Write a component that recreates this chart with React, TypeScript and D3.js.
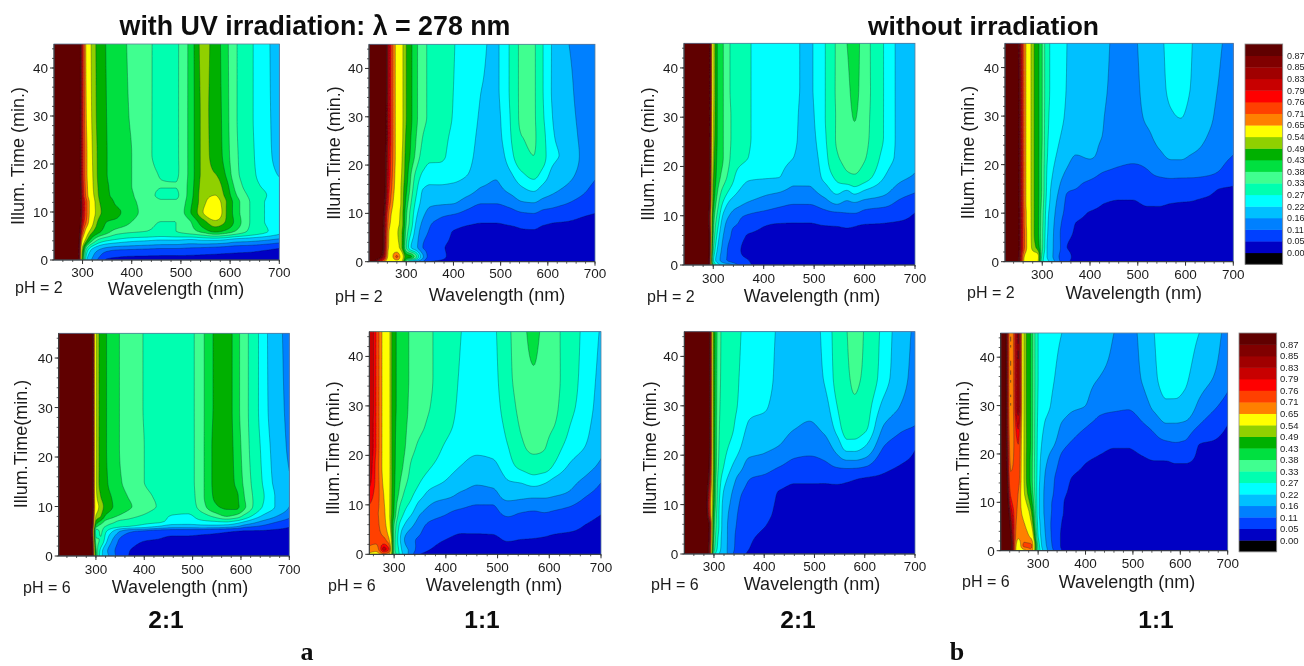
import React, { useMemo } from "react";
import * as d3 from "d3";

const LEVELS = [0, 0.05, 0.11, 0.16, 0.22, 0.27, 0.33, 0.38, 0.43, 0.49, 0.54, 0.65, 0.71, 0.76, 0.79, 0.83, 0.85, 0.87];
const LEVEL_LABELS = ["0.00", "0.05", "0.11", "0.16", "0.22", "0.27", "0.33", "0.38", "0.43", "0.49", "0.54", "0.65", "0.71", "0.76", "0.79", "0.83", "0.85", "0.87"];
const BAND_COLORS = ["#0000c4", "#0040ff", "#0080ff", "#00c0ff", "#00ffff", "#00ffb0", "#40ff90", "#00e040", "#00b000", "#90d000", "#ffff00", "#ff8000", "#ff4000", "#ff0000", "#c80000", "#a00000", "#800000", "#600000"];
const BELOW_COLOR = "#000000";

const WAVES = [220, 250, 265, 280, 290, 300, 310, 320, 335, 350, 370, 400, 430, 460, 490, 520, 545, 570, 590, 610, 640, 670, 700];
const WAVES_TIP = [220, 250, 265, 280, 290, 300, 310, 320, 335, 350, 370, 400, 430, 460, 490, 520, 545, 565, 580, 600, 640, 670, 700];
const WAVES_LAST = [220, 232, 242, 258, 270, 285, 300, 310, 320, 335, 350, 370, 400, 430, 460, 490, 520, 545, 570, 590, 610, 640, 670, 700];
const TIMES = [0, 1, 3, 6, 8, 10, 12, 15, 18, 22, 26, 30, 36, 45];
const TIMES_A = [0, 2, 4, 6, 8, 10, 12, 13.5, 15.5, 18, 22, 30, 45];
const TIMES_E = [0, 1, 3, 5, 6, 7, 8, 10, 12, 15, 22, 30, 45];
const X_TICKS = [300, 400, 500, 600, 700];
const Y_TICKS = [0, 10, 20, 30, 40];

// rows = times, columns = wavelengths
const uvPh2Ratio21Rows = [
  [.95, .95, .95, .95, .93, .45, .20, .15, .09, .04, .03, .02, .02, .02, .02, .02, .02, .02, .02, .02, .02, .02, .03],
  [.95, .95, .95, .95, .93, .50, .28, .20, .15, .12, .105, .10, .095, .09, .09, .085, .08, .075, .07, .065, .06, .05, .04],
  [.95, .95, .95, .95, .94, .62, .47, .38, .30, .27, .25, .23, .22, .21, .21, .20, .21, .21, .20, .18, .17, .155, .135],
  [.95, .95, .95, .95, .94, .74, .58, .50, .44, .40, .36, .34, .33, .32, .33, .36, .40, .445, .42, .38, .32, .28, .24],
  [.95, .95, .95, .96, .95, .80, .68, .56, .47, .43, .42, .38, .345, .33, .33, .38, .47, .53, .49, .42, .33, .27, .245],
  [.95, .95, .95, .96, .96, .82, .70, .58, .50, .46, .44, .40, .36, .345, .345, .43, .54, .60, .50, .41, .33, .27, .25],
  [.95, .95, .95, .96, .95, .82, .70, .58, .49, .46, .42, .39, .36, .335, .335, .42, .525, .57, .50, .41, .33, .27, .25],
  [.95, .95, .95, .95, .95, .80, .66, .56, .48, .44, .41, .385, .345, .325, .325, .41, .52, .54, .48, .39, .32, .275, .245],
  [.95, .95, .95, .95, .95, .79, .65, .55, .475, .435, .41, .38, .345, .331, .331, .405, .51, .52, .46, .37, .30, .26, .235],
  [.95, .95, .95, .95, .95, .78, .64, .545, .47, .43, .405, .38, .345, .328, .326, .40, .50, .49, .43, .35, .29, .245, .215],
  [.95, .95, .95, .95, .95, .78, .64, .54, .47, .43, .405, .38, .34, .32, .325, .40, .50, .47, .41, .345, .285, .24, .20],
  [.95, .95, .95, .95, .95, .78, .62, .53, .465, .428, .40, .375, .34, .32, .325, .40, .50, .465, .405, .34, .28, .24, .19],
  [.95, .95, .95, .95, .95, .78, .60, .525, .46, .425, .40, .37, .34, .32, .325, .40, .51, .46, .40, .34, .28, .24, .18],
];

// the remaining grids: rows = wavelengths, columns = times
const uvPh2Ratio11 = [
  [.95, .95, .95, .95, .95, .95, .95, .95, .95, .95, .95, .95, .95, .95],
  [.72, .85, .88, .88, .88, .89, .90, .91, .91, .91, .92, .92, .93, .93],
  [.56, .60, .62, .63, .66, .68, .72, .75, .77, .78, .79, .79, .79, .79],
  [.60, .72, .57, .55, .56, .57, .58, .60, .61, .62, .62, .62, .62, .62],
  [.55, .60, .50, .50, .52, .52, .53, .53, .54, .55, .56, .56, .56, .56],
  [.35, .46, .33, .36, .38, .39, .41, .44, .46, .47, .48, .49, .49, .49],
  [.20, .44, .22, .27, .30, .31, .33, .36, .38, .42, .43, .44, .44, .44],
  [.15, .35, .18, .20, .22, .24, .26, .29, .32, .37, .385, .395, .395, .395],
  [.11, .17, .11, .13, .15, .175, .20, .22, .26, .31, .33, .345, .345, .345],
  [.05, .09, .09, .105, .115, .14, .17, .21, .24, .285, .305, .32, .32, .32],
  [.04, .07, .06, .09, .10, .125, .165, .21, .24, .28, .285, .29, .29, .29],
  [.03, .035, .04, .047, .07, .115, .16, .205, .235, .255, .263, .268, .27, .272],
  [.025, .03, .03, .04, .055, .095, .13, .185, .22, .235, .24, .245, .25, .25],
  [.025, .03, .03, .04, .05, .08, .11, .155, .18, .20, .21, .215, .22, .225],
  [.025, .03, .03, .04, .05, .08, .11, .15, .165, .19, .205, .21, .215, .215],
  [.025, .03, .03, .04, .055, .09, .125, .175, .21, .25, .265, .27, .275, .275],
  [.025, .03, .03, .045, .06, .105, .15, .21, .26, .315, .33, .34, .34, .34],
  [.025, .03, .03, .045, .065, .11, .155, .23, .285, .33, .335, .335, .335, .335],
  [.025, .03, .03, .04, .055, .095, .135, .20, .25, .29, .285, .275, .27, .27],
  [.025, .03, .03, .04, .05, .09, .125, .175, .205, .23, .225, .22, .215, .215],
  [.025, .03, .03, .035, .047, .075, .11, .15, .18, .21, .20, .19, .18, .165],
  [.025, .03, .03, .03, .04, .06, .09, .125, .145, .155, .15, .145, .14, .14],
  [.025, .03, .03, .03, .03, .05, .07, .095, .115, .12, .12, .12, .12, .12],
];

const darkPh2Ratio21 = [
  [.95, .95, .95, .95, .95, .95, .95, .95, .95, .95, .95, .95, .95, .95],
  [.95, .95, .95, .95, .95, .95, .95, .95, .95, .95, .95, .95, .95, .95],
  [.95, .95, .95, .95, .95, .95, .95, .95, .95, .95, .95, .95, .95, .95],
  [.95, .95, .95, .95, .95, .95, .95, .95, .95, .95, .95, .95, .95, .95],
  [.90, .92, .93, .93, .90, .89, .93, .95, .95, .95, .95, .95, .95, .95],
  [.35, .28, .33, .38, .40, .42, .45, .48, .50, .52, .54, .55, .56, .56],
  [.24, .18, .20, .24, .27, .30, .33, .37, .40, .41, .415, .415, .415, .415],
  [.20, .13, .14, .16, .18, .21, .25, .31, .36, .38, .38, .38, .38, .38],
  [.17, .09, .09, .11, .12, .15, .19, .255, .30, .325, .33, .33, .325, .325],
  [.11, .06, .055, .07, .105, .12, .165, .22, .25, .29, .30, .30, .30, .30],
  [.055, .05, .04, .047, .08, .105, .145, .195, .23, .27, .275, .275, .275, .275],
  [.04, .035, .035, .04, .052, .09, .13, .175, .225, .24, .25, .25, .25, .25],
  [.03, .03, .03, .035, .045, .08, .115, .165, .222, .235, .24, .24, .24, .24],
  [.03, .03, .03, .035, .045, .07, .105, .148, .18, .22, .225, .225, .225, .225],
  [.03, .03, .03, .035, .045, .07, .105, .15, .175, .195, .205, .21, .215, .215],
  [.03, .03, .03, .035, .05, .085, .125, .185, .235, .25, .26, .265, .265, .265],
  [.03, .03, .03, .035, .052, .09, .15, .235, .285, .325, .335, .335, .338, .338],
  [.03, .03, .03, .04, .055, .10, .135, .215, .32, .345, .355, .362, .37, .38],
  [.03, .03, .03, .04, .052, .10, .14, .24, .325, .355, .37, .382, .39, .395],
  [.03, .03, .03, .035, .047, .09, .125, .215, .30, .335, .345, .35, .355, .355],
  [.03, .03, .03, .035, .045, .075, .115, .175, .22, .25, .265, .265, .265, .265],
  [.03, .03, .03, .03, .04, .065, .09, .135, .175, .205, .205, .205, .205, .205],
  [.03, .03, .03, .03, .035, .045, .07, .115, .155, .175, .18, .18, .18, .18],
];

const darkPh2Ratio11 = [
  [.95, .95, .95, .95, .95, .95, .95, .95, .95, .95, .95, .95, .95, .95],
  [.875, .88, .88, .88, .88, .88, .88, .88, .88, .88, .88, .88, .88, .875],
  [.60, .62, .68, .68, .67, .67, .66, .66, .66, .66, .66, .66, .66, .66],
  [.58, .58, .52, .51, .51, .51, .51, .51, .51, .51, .51, .51, .51, .51],
  [.56, .57, .47, .45, .45, .45, .45, .45, .45, .45, .45, .45, .45, .45],
  [.28, .30, .34, .34, .345, .35, .36, .37, .37, .375, .38, .38, .38, .38],
  [.24, .22, .22, .23, .235, .24, .25, .26, .265, .275, .28, .285, .29, .29],
  [.19, .17, .17, .175, .18, .19, .20, .21, .225, .24, .25, .255, .26, .26],
  [.12, .11, .125, .12, .125, .13, .14, .16, .185, .21, .225, .235, .24, .24],
  [.06, .07, .052, .07, .085, .10, .105, .115, .15, .185, .205, .215, .22, .222],
  [.04, .04, .04, .045, .05, .07, .085, .11, .125, .16, .185, .195, .20, .20],
  [.03, .03, .03, .03, .04, .047, .07, .095, .12, .165, .17, .175, .178, .18],
  [.03, .03, .03, .03, .035, .04, .05, .085, .105, .145, .158, .16, .163, .165],
  [.03, .03, .03, .03, .03, .035, .045, .07, .098, .125, .14, .148, .152, .155],
  [.03, .03, .03, .03, .03, .035, .045, .07, .095, .12, .135, .145, .15, .155],
  [.03, .03, .03, .03, .03, .04, .055, .09, .105, .125, .15, .17, .18, .185],
  [.03, .03, .03, .03, .03, .04, .055, .085, .115, .15, .18, .195, .205, .21],
  [.03, .03, .03, .03, .03, .035, .05, .085, .12, .17, .195, .215, .23, .235],
  [.03, .03, .03, .03, .03, .035, .048, .08, .12, .17, .195, .222, .24, .25],
  [.03, .03, .03, .03, .03, .035, .047, .075, .12, .16, .19, .205, .22, .225],
  [.03, .03, .03, .03, .03, .03, .04, .07, .115, .145, .165, .18, .185, .19],
  [.03, .03, .03, .03, .03, .03, .035, .05, .105, .125, .14, .15, .158, .165],
  [.03, .03, .03, .03, .03, .03, .03, .045, .08, .11, .125, .135, .14, .145],
];

const uvPh6Ratio21 = [
  [.95, .95, .95, .95, .95, .95, .95, .95, .95, .95, .95, .95, .95],
  [.95, .95, .95, .95, .95, .95, .95, .95, .95, .95, .95, .95, .95],
  [.95, .95, .95, .95, .95, .95, .95, .95, .95, .95, .95, .95, .95],
  [.95, .95, .95, .95, .95, .95, .95, .95, .95, .95, .95, .95, .95],
  [.96, .95, .93, .90, .92, .94, .95, .96, .96, .96, .96, .96, .96],
  [.42, .40, .35, .30, .40, .48, .53, .58, .56, .55, .55, .55, .55],
  [.24, .25, .32, .34, .36, .42, .49, .52, .49, .47, .47, .47, .47],
  [.19, .18, .24, .28, .33, .37, .42, .47, .45, .44, .435, .435, .435],
  [.125, .12, .15, .22, .30, .345, .39, .43, .425, .41, .405, .405, .405],
  [.09, .09, .10, .16, .285, .32, .37, .41, .40, .385, .378, .378, .378],
  [.047, .05, .07, .12, .27, .31, .345, .385, .375, .36, .355, .355, .355],
  [.03, .035, .05, .10, .25, .29, .32, .355, .345, .33, .33, .328, .328],
  [.03, .03, .045, .085, .22, .28, .29, .325, .32, .31, .31, .31, .31],
  [.03, .03, .035, .08, .19, .255, .265, .30, .30, .30, .30, .30, .30],
  [.03, .03, .035, .08, .19, .25, .26, .30, .305, .31, .31, .31, .31],
  [.03, .03, .03, .075, .20, .26, .30, .36, .37, .37, .37, .37, .37],
  [.03, .03, .03, .065, .20, .27, .34, .42, .435, .44, .44, .435, .435],
  [.03, .03, .03, .055, .19, .28, .38, .44, .455, .46, .46, .46, .46],
  [.03, .03, .03, .05, .17, .26, .36, .44, .44, .42, .41, .40, .40],
  [.03, .03, .03, .045, .13, .22, .30, .38, .37, .36, .35, .345, .345],
  [.03, .03, .03, .045, .105, .16, .22, .28, .29, .28, .27, .26, .26],
  [.03, .03, .03, .04, .08, .12, .165, .22, .22, .21, .20, .19, .185],
  [.03, .03, .03, .035, .055, .09, .12, .16, .17, .165, .15, .145, .14],
];

const uvPh6Ratio11 = [
  [.62, .70, .72, .73, .74, .76, .78, .80, .81, .82, .82, .83, .83, .83],
  [.62, .70, .72, .73, .74, .76, .78, .80, .81, .82, .82, .83, .83, .83],
  [.60, .68, .72, .72, .72, .73, .74, .75, .75, .76, .76, .76, .76, .76],
  [.70, .80, .72, .68, .67, .66, .65, .63, .62, .62, .62, .62, .62, .62],
  [.65, .76, .66, .58, .56, .56, .56, .56, .56, .56, .56, .56, .56, .56],
  [.38, .35, .36, .38, .42, .43, .435, .44, .44, .44, .44, .44, .44, .44],
  [.27, .26, .24, .27, .31, .34, .37, .39, .405, .41, .415, .42, .42, .42],
  [.20, .18, .16, .22, .26, .29, .32, .35, .37, .385, .39, .395, .395, .395],
  [.12, .14, .12, .17, .215, .25, .275, .305, .32, .345, .36, .365, .37, .37],
  [.05, .07, .10, .13, .16, .20, .24, .275, .30, .32, .34, .345, .35, .35],
  [.04, .05, .07, .10, .13, .16, .20, .245, .275, .30, .32, .33, .335, .335],
  [.03, .035, .05, .085, .11, .13, .18, .22, .245, .265, .285, .295, .30, .30],
  [.02, .03, .04, .07, .095, .12, .15, .19, .22, .24, .255, .26, .265, .27],
  [.02, .03, .04, .07, .09, .11, .14, .17, .205, .23, .24, .245, .25, .25],
  [.02, .03, .04, .075, .095, .11, .14, .18, .21, .235, .245, .25, .255, .26],
  [.02, .03, .055, .09, .115, .14, .19, .22, .25, .27, .285, .30, .315, .32],
  [.02, .03, .05, .085, .105, .135, .18, .23, .285, .32, .335, .345, .355, .36],
  [.02, .03, .048, .08, .10, .13, .175, .25, .30, .345, .355, .36, .375, .395],
  [.02, .03, .045, .08, .105, .13, .175, .235, .30, .335, .345, .35, .355, .365],
  [.02, .03, .04, .075, .10, .125, .165, .21, .265, .30, .33, .34, .345, .345],
  [.02, .03, .035, .07, .09, .115, .15, .18, .215, .25, .27, .285, .295, .30],
  [.02, .025, .03, .05, .065, .09, .115, .15, .185, .22, .235, .245, .25, .255],
  [.02, .02, .025, .04, .05, .07, .09, .115, .15, .175, .185, .195, .205, .215],
];

const darkPh6Ratio21 = [
  [.95, .95, .95, .95, .95, .95, .95, .95, .95, .95, .95, .95, .95, .95],
  [.95, .95, .95, .95, .95, .95, .95, .95, .95, .95, .95, .95, .95, .95],
  [.95, .95, .95, .95, .95, .95, .95, .95, .95, .95, .95, .95, .95, .95],
  [.95, .95, .95, .95, .95, .95, .95, .95, .95, .95, .95, .95, .95, .95],
  [.85, .85, .87, .88, .80, .78, .80, .85, .88, .90, .90, .90, .90, .90],
  [.30, .35, .38, .40, .42, .44, .45, .46, .47, .47, .47, .47, .47, .47],
  [.22, .24, .25, .27, .27, .275, .285, .30, .32, .33, .335, .34, .345, .35],
  [.19, .19, .19, .19, .195, .20, .21, .24, .27, .29, .30, .305, .31, .31],
  [.12, .125, .13, .135, .14, .15, .16, .19, .225, .26, .28, .285, .29, .29],
  [.08, .09, .09, .10, .105, .11, .115, .14, .19, .23, .25, .265, .27, .275],
  [.04, .05, .06, .08, .09, .095, .10, .11, .14, .19, .215, .23, .245, .25],
  [.02, .025, .035, .055, .07, .08, .09, .10, .135, .175, .205, .225, .235, .235],
  [.02, .025, .03, .03, .035, .04, .045, .07, .115, .16, .185, .20, .21, .215],
  [.02, .025, .03, .03, .03, .035, .04, .055, .095, .135, .165, .185, .195, .20],
  [.02, .025, .03, .03, .03, .035, .04, .055, .09, .13, .155, .175, .19, .195],
  [.02, .025, .03, .03, .03, .035, .04, .055, .10, .14, .175, .20, .225, .235],
  [.02, .025, .03, .03, .03, .03, .035, .06, .12, .19, .245, .27, .29, .295],
  [.02, .025, .03, .03, .03, .03, .035, .055, .13, .25, .30, .312, .322, .33],
  [.02, .025, .03, .03, .03, .03, .035, .05, .13, .25, .30, .322, .34, .36],
  [.02, .025, .03, .03, .03, .03, .035, .045, .12, .225, .285, .30, .32, .325],
  [.02, .025, .03, .03, .03, .03, .03, .04, .065, .11, .155, .20, .24, .25],
  [.02, .025, .03, .03, .03, .03, .03, .035, .05, .085, .125, .16, .185, .19],
  [.02, .025, .03, .03, .03, .03, .03, .03, .04, .055, .11, .125, .14, .15],
];

const darkPh6Ratio11 = [
  [.95, .95, .95, .95, .95, .95, .95, .95, .95, .95, .95, .95, .95, .95],
  [.95, .95, .95, .95, .95, .94, .93, .92, .90, .89, .88, .88, .88, .88],
  [.90, .90, .88, .85, .82, .78, .75, .72, .70, .68, .66, .65, .65, .65],
  [.58, .60, .66, .68, .69, .70, .71, .73, .74, .76, .80, .85, .85, .85],
  [.62, .72, .68, .65, .62, .58, .55, .54, .54, .54, .54, .54, .54, .54],
  [.70, .72, .63, .54, .50, .46, .43, .41, .41, .42, .42, .42, .42, .42],
  [.32, .31, .27, .25, .24, .24, .24, .245, .25, .255, .26, .265, .27, .27],
  [.22, .20, .19, .18, .17, .17, .17, .18, .19, .21, .225, .23, .24, .24],
  [.16, .15, .14, .13, .13, .125, .13, .135, .155, .18, .21, .225, .23, .235],
  [.10, .09, .085, .09, .095, .10, .105, .11, .13, .16, .19, .21, .22, .225],
  [.05, .045, .045, .05, .055, .055, .06, .07, .09, .125, .155, .19, .21, .22],
  [.03, .03, .03, .03, .035, .04, .045, .05, .07, .105, .135, .17, .19, .205],
  [.02, .025, .025, .025, .03, .03, .035, .04, .05, .085, .115, .16, .175, .19],
  [.02, .025, .025, .025, .03, .03, .03, .03, .04, .065, .095, .125, .16, .175],
  [.02, .025, .025, .025, .03, .03, .03, .03, .035, .055, .085, .12, .15, .16],
  [.02, .025, .025, .025, .03, .03, .03, .03, .035, .055, .085, .115, .135, .145],
  [.02, .025, .025, .025, .03, .03, .03, .03, .04, .07, .105, .135, .165, .175],
  [.02, .025, .025, .025, .03, .03, .03, .03, .045, .09, .125, .175, .21, .22],
  [.02, .025, .025, .025, .03, .03, .03, .03, .045, .10, .155, .21, .24, .245],
  [.02, .025, .025, .025, .03, .03, .03, .03, .05, .105, .155, .21, .24, .255],
  [.02, .025, .025, .025, .03, .03, .03, .03, .05, .10, .15, .20, .23, .25],
  [.02, .025, .025, .025, .03, .03, .03, .03, .04, .05, .11, .15, .185, .22],
  [.02, .025, .025, .025, .025, .025, .025, .025, .03, .045, .08, .12, .16, .185],
  [.02, .025, .025, .025, .025, .025, .025, .025, .03, .035, .05, .09, .125, .14],
];

const Y_LABEL = "Illum. Time (min.)";
const Y_LABEL_TIGHT = "Illum.Time (min.)";
const Y_LABEL_E = "Illum.Time(min.)";
const X_LABEL = "Wavelength (nm)";

type Panel = {
  waves: number[]; times: number[]; grid: number[][]; ph: string; yLabel: string;
  box: [number, number, number, number]; xMin: number; yl: [number, number]; tickY: number;
  xl: [number, number]; phPos: [number, number];
};

const PANELS: Panel[] = [
  { waves: WAVES, times: TIMES_A, grid: d3.transpose(uvPh2Ratio21Rows) as number[][], ph: "pH = 2", yLabel: Y_LABEL, box: [54, 279.3, 44, 260], xMin: 242, yl: [24, 156], tickY: 277, xl: [176, 295], phPos: [15, 293] },
  { waves: WAVES, times: TIMES, grid: uvPh2Ratio11, ph: "pH = 2", yLabel: Y_LABEL_TIGHT, box: [369, 595, 44.3, 261.7], xMin: 221, yl: [340, 153], tickY: 278, xl: [497, 301], phPos: [335, 301.7] },
  { waves: WAVES_TIP, times: TIMES, grid: darkPh2Ratio21, ph: "pH = 2", yLabel: Y_LABEL_TIGHT, box: [684, 915, 43.3, 265], xMin: 242, yl: [654, 154], tickY: 283, xl: [812, 302], phPos: [647, 302] },
  { waves: WAVES, times: TIMES, grid: darkPh2Ratio11, ph: "pH = 2", yLabel: Y_LABEL_TIGHT, box: [1005, 1233.3, 43.3, 261.7], xMin: 222, yl: [974, 152.5], tickY: 279, xl: [1133.7, 299], phPos: [967, 298] },
  { waves: WAVES, times: TIMES_E, grid: uvPh6Ratio21, ph: "pH = 6", yLabel: Y_LABEL_E, box: [58.7, 289.3, 333.3, 556], xMin: 223, yl: [27, 444], tickY: 574, xl: [180, 593], phPos: [23, 593] },
  { waves: WAVES, times: TIMES, grid: uvPh6Ratio11, ph: "pH = 6", yLabel: Y_LABEL_TIGHT, box: [369.3, 601, 331.7, 554.3], xMin: 252, yl: [339, 448], tickY: 572, xl: [494, 591], phPos: [328, 591] },
  { waves: WAVES_TIP, times: TIMES, grid: darkPh6Ratio21, ph: "pH = 6", yLabel: Y_LABEL_TIGHT, box: [684.3, 915, 331.7, 554], xMin: 241, yl: [656, 448], tickY: 570.5, xl: [812, 590], phPos: [651, 590] },
  { waves: WAVES_LAST, times: TIMES, grid: darkPh6Ratio11, ph: "pH = 6", yLabel: Y_LABEL_TIGHT, box: [1000.7, 1227.7, 333, 550.7], xMin: 221, yl: [969, 447.5], tickY: 568, xl: [1127, 588], phPos: [962, 587] },
];

const RATIOS = [
  { text: "2:1", x: 166 }, { text: "1:1", x: 482 }, { text: "2:1", x: 798 }, { text: "1:1", x: 1156 },
];

const SANS = "'Liberation Sans', Arial, sans-serif";
const TEXT = "#1c1c1c";
const D_W = 2;
const D_T = 0.25;
const W_START = 220;

function slopes(xs: number[], ys: number[]) {
  const n = xs.length;
  const d = d3.range(n - 1).map((i) => (ys[i + 1] - ys[i]) / (xs[i + 1] - xs[i]));
  return d3.range(n).map((i) => {
    if (i === 0) return d[0];
    if (i === n - 1) return d[n - 2];
    if (d[i - 1] * d[i] <= 0) return 0;
    const h0 = xs[i] - xs[i - 1];
    const h1 = xs[i + 1] - xs[i];
    return (3 * (h0 + h1)) / ((2 * h1 + h0) / d[i - 1] + (h1 + 2 * h0) / d[i]);
  });
}

function smooth(xs: number[], ys: number[], qs: number[]) {
  const m = slopes(xs, ys);
  const find = d3.bisector((v: number) => v).right;
  return qs.map((q) => {
    const i = Math.max(0, Math.min(xs.length - 2, find(xs, q) - 1));
    const h = xs[i + 1] - xs[i];
    const t = (q - xs[i]) / h;
    const t2 = t * t;
    const t3 = t2 * t;
    return (2 * t3 - 3 * t2 + 1) * ys[i] + (t3 - 2 * t2 + t) * h * m[i] + (-2 * t3 + 3 * t2) * ys[i + 1] + (t3 - t2) * h * m[i + 1];
  });
}

// draws the read grid as a smooth surface, as the plotting program did
function surface(p: Panel) {
  const qw = d3.range(0, 241).map((i) => W_START + i * D_W);
  const qt = d3.range(0, 181).map((j) => j * D_T);
  const acrossTime = p.grid.map((col) => smooth(p.times, col, qt));
  const values = new Float64Array(qw.length * qt.length);
  qt.forEach((_, j) => {
    const row = smooth(p.waves, acrossTime.map((c) => c[j]), qw);
    row.forEach((v, i) => { values[j * qw.length + i] = v; });
  });
  const contours = d3.contours().size([qw.length, qt.length]).thresholds(LEVELS)(values as unknown as number[]);
  return contours;
}

function PanelView({ p, index }: { p: Panel; index: number }) {
  const [x0, x1, y0, y1] = p.box;
  const xs = d3.scaleLinear().domain([p.xMin, 700]).range([x0, x1]);
  const ys = d3.scaleLinear().domain([0, 45]).range([y1, y0]);
  const paths = useMemo(() => {
    const proj = d3.geoTransform({
      point(x: number, y: number) {
        (this as any).stream.point(xs(W_START + (x - 0.5) * D_W), ys((y - 0.5) * D_T));
      },
    });
    const gen = d3.geoPath(proj);
    return surface(p).map((c) => gen(c as any) || "");
  }, []);
  const minorX = d3.range(Math.ceil(p.xMin / 20) * 20, 701, 20);
  const minorY = d3.range(0, 45.1, 2);
  return (
    <g>
      <clipPath id={`clip${index}`}><rect x={x0} y={y0} width={x1 - x0} height={y1 - y0} /></clipPath>
      <g clipPath={`url(#clip${index})`}>
        <rect x={x0} y={y0} width={x1 - x0} height={y1 - y0} fill={BAND_COLORS[0]} />
        {paths.map((d, i) => (
          <path key={i} d={d} fill={BAND_COLORS[i]} stroke="#123" strokeOpacity={i === 0 ? 0 : 0.55} strokeWidth={0.6} />
        ))}
      </g>
      <rect x={x0} y={y0} width={x1 - x0} height={y1 - y0} fill="none" stroke="#5f7f9a" strokeWidth={0.8} />
      <line x1={x0} x2={x1} y1={y1} y2={y1} stroke="#333" strokeWidth={1} />
      <line x1={x0} x2={x0} y1={y0} y2={y1} stroke="#333" strokeWidth={1} />
      {minorX.map((v) => <line key={v} x1={xs(v)} x2={xs(v)} y1={y1} y2={y1 + 2} stroke="#333" strokeWidth={0.8} />)}
      {minorY.map((v) => <line key={v} x1={x0} x2={x0 - 2} y1={ys(v)} y2={ys(v)} stroke="#333" strokeWidth={0.8} />)}
      {X_TICKS.map((v) => (
        <g key={v}>
          <line x1={xs(v)} x2={xs(v)} y1={y1} y2={y1 + 4} stroke="#333" strokeWidth={1} />
          <text x={xs(v)} y={p.tickY} textAnchor="middle" fontFamily={SANS} fontSize={13.5} fill={TEXT}>{v}</text>
        </g>
      ))}
      {Y_TICKS.map((v) => (
        <g key={v}>
          <line x1={x0} x2={x0 - 4} y1={ys(v)} y2={ys(v)} stroke="#333" strokeWidth={1} />
          <text x={x0 - 6} y={ys(v) + 5} textAnchor="end" fontFamily={SANS} fontSize={13.5} fill={TEXT}>{v}</text>
        </g>
      ))}
      <text transform={`translate(${p.yl[0]},${p.yl[1]}) rotate(-90)`} textAnchor="middle" fontFamily={SANS} fontSize={18} fill={TEXT}>{p.yLabel}</text>
      <text x={p.xl[0]} y={p.xl[1]} textAnchor="middle" fontFamily={SANS} fontSize={18} fill={TEXT}>{X_LABEL}</text>
      <text x={p.phPos[0]} y={p.phPos[1]} fontFamily={SANS} fontSize={16} fill={TEXT}>{p.ph}</text>
    </g>
  );
}

function ColorBar({ x0, x1, y0, y1, labelX, fontSize }: { x0: number; x1: number; y0: number; y1: number; labelX: number; fontSize: number }) {
  const bands = [BELOW_COLOR, ...BAND_COLORS];
  const y = d3.scaleLinear().domain([0, bands.length]).range([y1, y0]);
  return (
    <g>
      {bands.map((c, i) => <rect key={i} x={x0} width={x1 - x0} y={y(i + 1)} height={y(i) - y(i + 1) + 0.4} fill={c} />)}
      <rect x={x0} y={y0} width={x1 - x0} height={y1 - y0} fill="none" stroke="#8a8a8a" strokeWidth={0.8} />
      {LEVEL_LABELS.map((t, i) => (
        <text key={t} x={labelX} y={y(i + 1) + fontSize * 0.36} fontFamily={SANS} fontSize={fontSize} fill={TEXT}>{t}</text>
      ))}
    </g>
  );
}

export default function App() {
  return (
    <svg width={1304} height={666} viewBox="0 0 1304 666" style={{ position: "absolute", left: 0, top: 0, display: "block", background: "#fff" }}>
      <defs>
        <filter id="soft" x="0" y="0" width="100%" height="100%"><feGaussianBlur stdDeviation="0.45" /></filter>
      </defs>
      <g filter="url(#soft)">
        <rect x={0} y={0} width={1304} height={666} fill="#fff" />
        <text x={315} y={35} textAnchor="middle" fontFamily={SANS} fontWeight="bold" fontSize={26.8} fill="#111">with UV irradiation: λ = 278 nm</text>
        <text x={983.5} y={35} textAnchor="middle" fontFamily={SANS} fontWeight="bold" fontSize={26.5} fill="#111">without irradiation</text>
        {PANELS.map((p, i) => <PanelView key={i} p={p} index={i} />)}
        <ColorBar x0={1245} x1={1282.7} y0={44} y1={264.3} labelX={1287} fontSize={9} />
        <ColorBar x0={1239} x1={1276.7} y0={333} y1={551.7} labelX={1280} fontSize={9.5} />
        {RATIOS.map((r, i) => (
          <text key={i} x={r.x} y={628} textAnchor="middle" fontFamily={SANS} fontWeight="bold" fontSize={24.5} fill="#111">{r.text}</text>
        ))}
        <text x={307} y={660} textAnchor="middle" fontFamily="'Liberation Serif', serif" fontWeight="bold" fontSize={26} fill="#111">a</text>
        <text x={957} y={660} textAnchor="middle" fontFamily="'Liberation Serif', serif" fontWeight="bold" fontSize={26} fill="#111">b</text>
      </g>
    </svg>
  );
}
